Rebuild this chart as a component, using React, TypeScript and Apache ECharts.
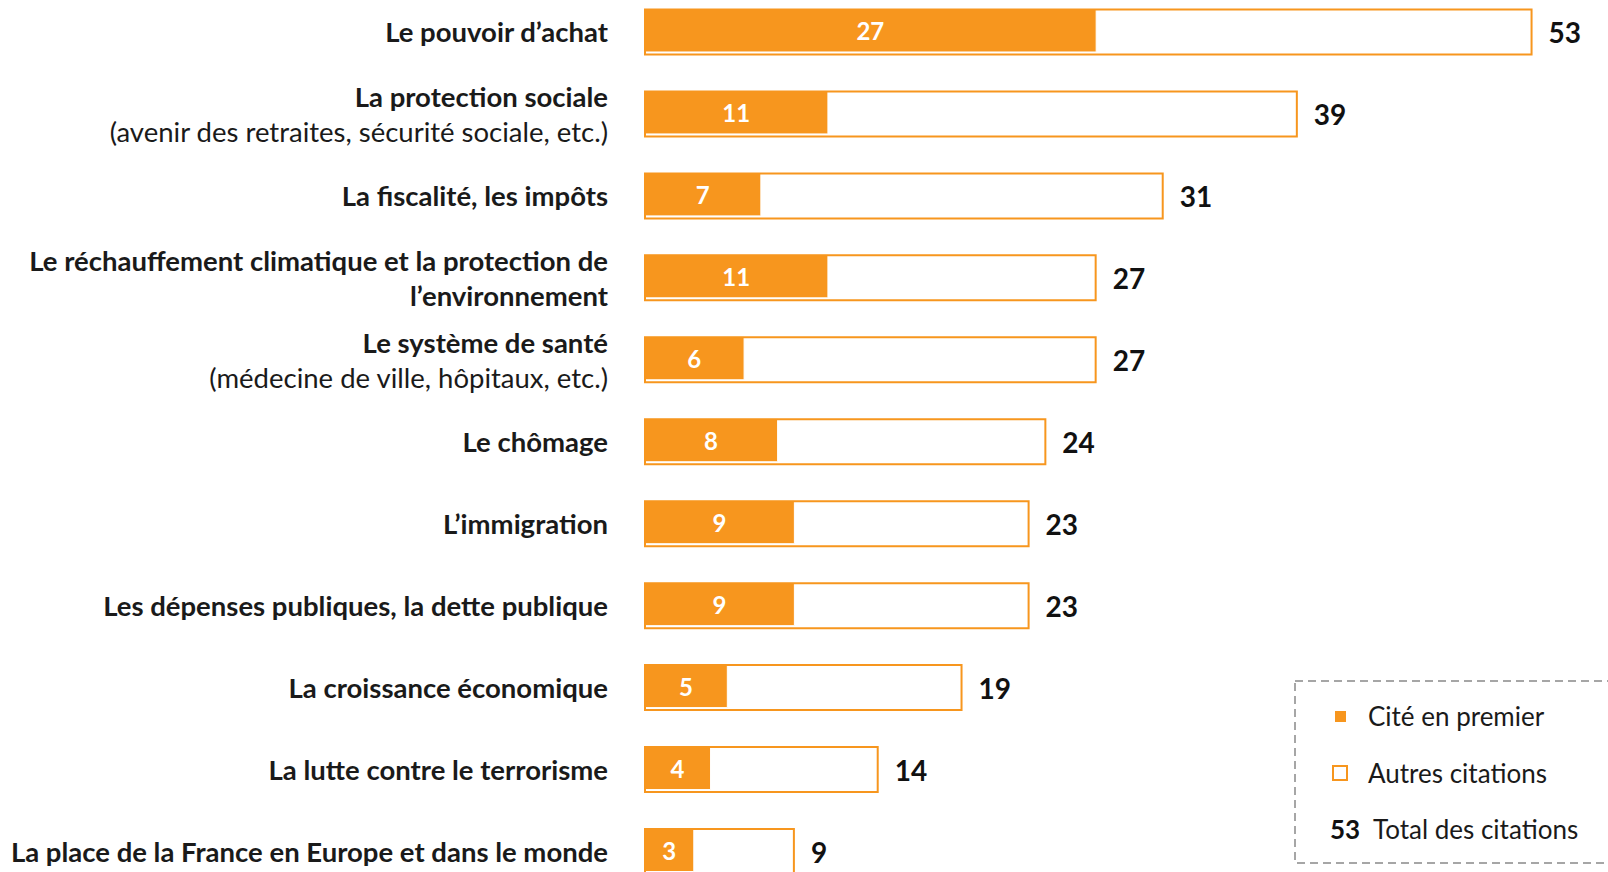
import React, { useEffect, useRef } from "react";
import * as echarts from "echarts";

const categoryTitles = [
  "Le pouvoir d’achat",
  "La protection sociale",
  "La fiscalité, les impôts",
  "Le réchauffement climatique et la protection de\nl’environnement",
  "Le système de santé",
  "Le chômage",
  "L’immigration",
  "Les dépenses publiques, la dette publique",
  "La croissance économique",
  "La lutte contre le terrorisme",
  "La place de la France en Europe et dans le monde",
];
const categorySubtitles = [
  "",
  "(avenir des retraites, sécurité sociale, etc.)",
  "",
  "",
  "(médecine de ville, hôpitaux, etc.)",
  "",
  "",
  "",
  "",
  "",
  "",
];
const firstCited = [27, 11, 7, 11, 6, 8, 9, 9, 5, 4, 3];
const totalCited = [53, 39, 31, 27, 27, 24, 23, 23, 19, 14, 9];
const legendLabels = ["Cité en premier", "Autres citations", "Total des citations"];
const legendExample = "53";

const ORANGE = "#F7961E";
const FONT = "Lato, 'Noto Sans', sans-serif";
const OFF = 9; // chart div is shifted up by this many pixels

export default function App() {
  const ref = useRef<HTMLDivElement>(null);
  useEffect(() => {
    if (!ref.current) return;
    const chart = echarts.init(ref.current, undefined, { renderer: "svg" });
    const cats = categoryTitles.map((_, i) => "c" + i);
    chart.setOption({
      animation: false,
      grid: { left: 644, top: -0.5, right: 0, height: 902, containLabel: false },
      xAxis: { type: "value", min: 0, max: 57.5, show: false },
      yAxis: {
        type: "category",
        data: cats,
        inverse: true,
        axisLine: { show: false },
        axisTick: { show: false },
        axisLabel: {
          margin: 36,
          align: "right",
          fontFamily: FONT,
          formatter: (_v: string, i: number) => {
            const lines = categoryTitles[i].split("\n").map((l) => "{b|" + l + "}");
            if (categorySubtitles[i]) lines.push("{r|" + categorySubtitles[i] + "}");
            return lines.join("\n");
          },
          rich: {
            b: { fontFamily: FONT, fontWeight: "bold", fontSize: 27.5, color: "#1a1a1a", lineHeight: 35, align: "right" },
            r: { fontFamily: FONT, fontWeight: "normal", fontSize: 27.5, color: "#1a1a1a", lineHeight: 35, align: "right" },
          },
        },
      },
      series: [
        {
          type: "bar",
          data: firstCited,
          barWidth: 44,
          barGap: "-100%",
          itemStyle: { color: ORANGE, borderColor: "#ffffff", borderWidth: 1 },
          label: {
            show: true,
            position: "inside",
            fontFamily: FONT,
            fontWeight: "bold",
            fontSize: 24,
            color: "#ffffff",
          },
          z: 2,
        },
        {
          type: "bar",
          data: totalCited,
          barWidth: 47,
          barGap: "-100%",
          itemStyle: { color: "rgba(255,255,255,0)", borderColor: ORANGE, borderWidth: 2 },
          label: {
            show: true,
            position: "right",
            distance: 16,
            fontFamily: FONT,
            fontWeight: "bold",
            fontSize: 28,
            color: "#111111",
          },
          z: 3,
        },
      ],
      graphic: [
        {
          type: "rect",
          shape: { x: 1295, y: 681 + OFF, width: 330, height: 182 },
          style: { fill: "#ffffff", stroke: "#a6a6a6", lineWidth: 2, lineDash: [8, 5] },
          z: 10,
        },
        {
          type: "rect",
          shape: { x: 1335, y: 711 + OFF, width: 11, height: 11 },
          style: { fill: ORANGE },
          z: 11,
        },
        {
          type: "text",
          x: 1368,
          y: 716 + OFF,
          style: { text: legendLabels[0], fontFamily: FONT, fontSize: 26, fill: "#1a1a1a", verticalAlign: "middle" },
          z: 11,
        },
        {
          type: "rect",
          shape: { x: 1333, y: 766 + OFF, width: 14, height: 14 },
          style: { fill: "#ffffff", stroke: ORANGE, lineWidth: 2 },
          z: 11,
        },
        {
          type: "text",
          x: 1368,
          y: 773 + OFF,
          style: { text: legendLabels[1], fontFamily: FONT, fontSize: 26, fill: "#1a1a1a", verticalAlign: "middle" },
          z: 11,
        },
        {
          type: "text",
          x: 1330,
          y: 829 + OFF,
          style: { text: legendExample, fontFamily: FONT, fontSize: 26, fontWeight: "bold", fill: "#111111", verticalAlign: "middle" },
          z: 11,
        },
        {
          type: "text",
          x: 1373,
          y: 829 + OFF,
          style: { text: legendLabels[2], fontFamily: FONT, fontSize: 26, fill: "#1a1a1a", verticalAlign: "middle" },
          z: 11,
        },
      ],
    });
    return () => chart.dispose();
  }, []);
  return (
    <div
      ref={ref}
      style={{ position: "fixed", left: 0, top: -OFF, width: 1608, height: 911, background: "#ffffff" }}
    />
  );
}
